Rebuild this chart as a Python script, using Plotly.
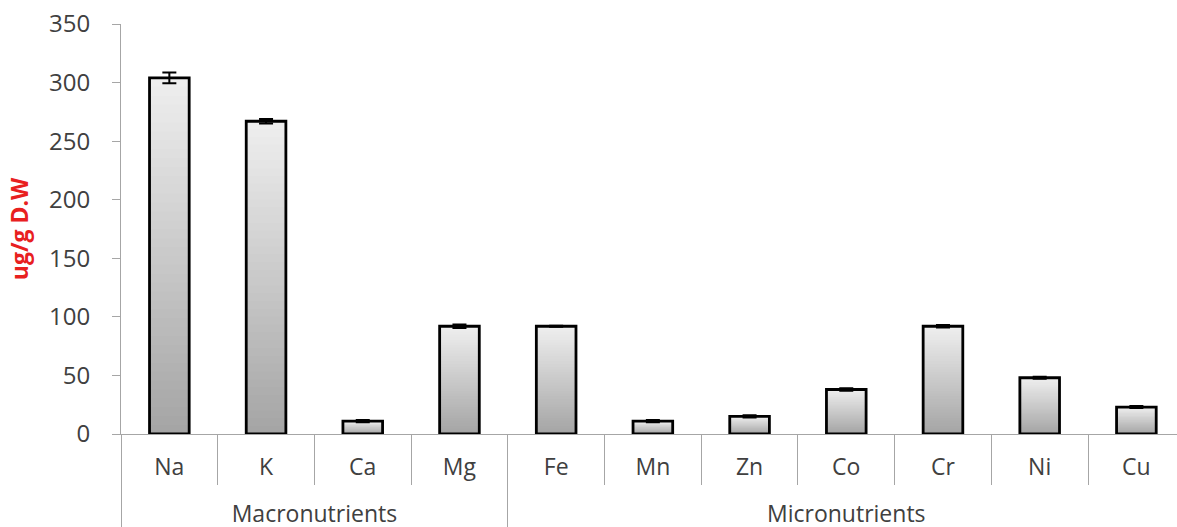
import plotly.graph_objects as go

groups = ["Macronutrients"] * 4 + ["Micronutrients"] * 7
elements = ["Na", "K", "Ca", "Mg", "Fe", "Mn", "Zn", "Co", "Cr", "Ni", "Cu"]
values = [304, 267, 11, 92, 92, 11, 15, 38, 92, 48, 23]
errors = [4.5, 2, 1, 1.5, 0.5, 1, 1, 1, 1, 0.8, 0.8]
y_ticks = [0, 50, 100, 150, 200, 250, 300, 350]

FONT = "Open Sans"
N = 40
bottom = (165, 165, 165)
top = (238, 238, 238)

def big(s):
    return "<span style='font-size:23px'>%s</span>" % s

fig = go.Figure()
group_labels = ["<br>" + big(g) for g in groups]
elem_labels = [big(e) for e in elements]
x = [group_labels, elem_labels]
for i in range(N):
    t = i / (N - 1)
    c = tuple(int(round(bottom[k] + (top[k] - bottom[k]) * t)) for k in range(3))
    fig.add_trace(go.Bar(
        x=x,
        y=[v * (N - i) / N for v in values],
        base=[v * i / N for v in values],
        width=0.41,
        marker=dict(color="rgb(%d,%d,%d)" % c, line=dict(width=0)),
        hoverinfo="skip",
        showlegend=False,
    ))

fig.add_trace(go.Bar(
    x=x,
    y=values,
    width=0.41,
    marker=dict(color="rgba(0,0,0,0)", line=dict(color="black", width=2.8)),
    error_y=dict(type="data", array=errors, visible=True, color="black", thickness=2, width=7),
    showlegend=False,
))

fig.update_layout(
    barmode="overlay",
    width=1177,
    height=527,
    margin=dict(l=121, r=0, t=24, b=93),
    paper_bgcolor="white",
    plot_bgcolor="white",
    font=dict(family=FONT, size=24, color="#404040"),
    xaxis=dict(
        type="multicategory",
        range=[-0.5, 10.42],
        automargin=False,
        showline=True,
        linecolor="#a6a6a6",
        linewidth=1,
        showgrid=False,
        tickson="boundaries",
        ticks="outside",
        ticklen=50,
        tickcolor="#a6a6a6",
        ticklabelstandoff=15,
        showdividers=True,
        dividercolor="#a6a6a6",
        dividerwidth=1,
        tickfont=dict(family=FONT, size=21, color="#404040"),
    ),
    yaxis=dict(
        range=[0, 350],
        tickvals=y_ticks,
        automargin=False,
        showline=True,
        linecolor="#a6a6a6",
        linewidth=1,
        ticks="outside",
        ticklen=8,
        tickcolor="#a6a6a6",
        ticklabelstandoff=17,
        ticklabeloverflow="allow",
        showgrid=False,
        zeroline=False,
        tickfont=dict(family=FONT, size=24, color="#404040"),
        title=dict(text="<b>ug/g D.W</b>", font=dict(family=FONT, size=23, color="#e8201f"), standoff=13),
    ),
)

fig.write_html("out.html", config={"displayModeBar": False},
               post_script="document.body.style.margin='0';")
